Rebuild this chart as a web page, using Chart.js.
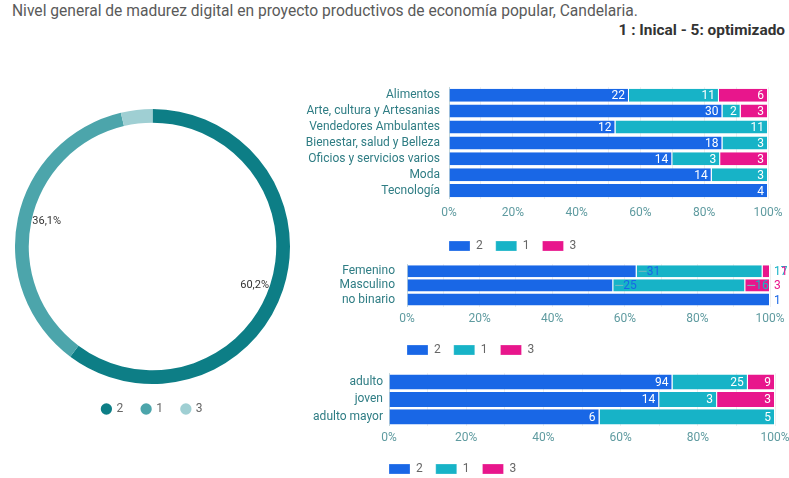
<!DOCTYPE html>
<html>
<head>
<meta charset="utf-8">
<script src="https://cdn.jsdelivr.net/npm/chart.js@4.4.1/dist/chart.umd.min.js"></script>
<style>
    body { margin: 0; width: 789px; height: 478px; overflow: hidden; background: #fff; font-family: Roboto, sans-serif; }
    .caja { position: absolute; }
    #titulo { position: absolute; left: 12px; top: 2px; font-size: 15.6px; color: #5a5a5a; }
    #escala { position: absolute; right: 4px; top: 21px; font-size: 15.4px; font-weight: bold; color: #333; }
</style>
</head>
<body>
<div id="titulo">Nivel general de madurez digital en proyecto productivos de economía popular, Candelaria.</div>
<div id="escala">1 : Inical - 5: optimizado</div>
<div class="caja" style="left:15px; top:109px; width:275px; height:316px;"><canvas id="graficoDona"></canvas></div>
<div class="caja" style="left:300px; top:71px; width:489px; height:191px;"><canvas id="graficoSector"></canvas></div>
<div class="caja" style="left:300px; top:245px; width:489px; height:121px;"><canvas id="graficoGenero"></canvas></div>
<div class="caja" style="left:300px; top:360px; width:489px; height:125px;"><canvas id="graficoEdad"></canvas></div>
<script>
// niveles de madurez (orden de las series)
const niveles = ['2', '1', '3'];

// dona general (%)
const donaValores = [60.2, 36.1, 3.7];

// por sector
const sectores = ['Alimentos', 'Arte, cultura y Artesanias', 'Vendedores Ambulantes', 'Bienestar, salud y Belleza', 'Oficios y servicios varios', 'Moda', 'Tecnología'];
const sectorN2 = [22, 30, 12, 18, 14, 14, 4];
const sectorN1 = [11, 2, 11, 3, 3, 3, 0];
const sectorN3 = [6, 3, 0, 0, 3, 0, 0];

// por genero
const generos = ['Femenino', 'Masculino', 'no binario'];
const generoN2 = [31, 25, 1];
const generoN1 = [17, 16, 0];
const generoN3 = [1, 3, 0];

// por edad
const edades = ['adulto', 'joven', 'adulto mayor'];
const edadN2 = [94, 14, 6];
const edadN1 = [25, 3, 5];
const edadN3 = [9, 3, 0];

const ticksX = [0, 20, 40, 60, 80, 100];

const coloresBarras = ['#1967e6', '#17b3c7', '#e8168c'];
const coloresDona = ['#0d7e86', '#4ca5ab', '#9fcfd3'];

Chart.defaults.font.family = 'Roboto, sans-serif';
Chart.defaults.font.size = 12;
Chart.defaults.animation = false;

// etiquetas del valor de cada segmento
const etiquetasBarras = {
    id: 'etiquetasBarras',
    afterDatasetsDraw(chart, args, opts) {
        const { ctx, chartArea } = chart;
        ctx.save();
        ctx.font = '12px Roboto, sans-serif';
        ctx.textBaseline = 'middle';
        const fuera = {};
        chart.data.datasets.forEach((ds, i) => {
            chart.getDatasetMeta(i).data.forEach((bar, j) => {
                const v = ds.valores[j];
                if (!v) return;
                if (opts.modo === 'interno') {
                    ctx.fillStyle = '#fff';
                    ctx.textAlign = 'right';
                    ctx.fillText(v, bar.x - 4, bar.y + 1);
                } else {
                    ctx.fillStyle = ds.backgroundColor;
                    ctx.textAlign = 'left';
                    if (bar.x >= chartArea.right - 10) {
                        const n = fuera[j] || 0;
                        fuera[j] = n + 1;
                        ctx.fillText(v, chartArea.right + 4 + n * 7, bar.y + 1);
                    } else {
                        ctx.strokeStyle = '#7fb9c0';
                        ctx.lineWidth = 1;
                        ctx.beginPath();
                        ctx.moveTo(bar.x + 2, bar.y);
                        ctx.lineTo(bar.x + 10, bar.y);
                        ctx.stroke();
                        ctx.fillText(v, bar.x + 10, bar.y + 1);
                    }
                }
            });
        });
        ctx.restore();
    }
};

// leyenda alineada con el area del grafico
const leyendaIzquierda = {
    id: 'leyendaIzquierda',
    afterLayout(chart) {
        const lg = chart.legend;
        if (lg) lg.left = chart.chartArea.left - lg.options.labels.padding;
    }
};

function barrasApiladas(id, categorias, series, anchoEje, margenEtiqueta, margenDerecho, grosor, sepTicks, modo) {
    const datasets = series.map((valores, i) => ({
        label: niveles[i],
        valores: valores,
        data: valores.map((v, j) => {
            const total = series.reduce((s, serie) => s + serie[j], 0);
            return v / total * 100;
        }),
        backgroundColor: coloresBarras[i],
        borderColor: '#ffffff',
        borderWidth: { left: 0, right: 1, top: 0, bottom: 0 },
        borderSkipped: false,
        barPercentage: 1,
        categoryPercentage: grosor
    }));
    return new Chart(document.getElementById(id), {
        type: 'bar',
        data: { labels: categorias, datasets: datasets },
        options: {
            indexAxis: 'y',
            responsive: true,
            maintainAspectRatio: false,
            layout: { padding: { top: 5, right: margenDerecho, left: 0, bottom: 0 } },
            scales: {
                x: {
                    stacked: true,
                    min: 0,
                    max: 100,
                    afterFit: scale => { scale.paddingRight = 0; scale.paddingLeft = 0; },
                    ticks: {
                        stepSize: 10,
                        autoSkip: false,
                        maxRotation: 0,
                        padding: sepTicks,
                        color: '#5f9ba0',
                        callback: v => ticksX.includes(v) ? v + '%' : ''
                    },
                    grid: { color: '#eeeeee', drawTicks: false },
                    border: { display: false }
                },
                y: {
                    stacked: true,
                    afterFit: scale => { scale.width = anchoEje; },
                    ticks: { color: '#2f7d84', padding: margenEtiqueta, autoSkip: false },
                    grid: { display: false, drawTicks: false },
                    border: { color: '#c6d8da' }
                }
            },
            plugins: {
                legend: {
                    position: 'bottom',
                    align: 'start',
                    labels: { boxWidth: 21, boxHeight: 10, padding: 13, color: '#666' }
                },
                tooltip: { enabled: false },
                etiquetasBarras: { modo: modo }
            }
        },
        plugins: [etiquetasBarras, leyendaIzquierda]
    });
}

barrasApiladas('graficoSector', sectores, [sectorN2, sectorN1, sectorN3], 149, 9, 21, 0.82, 7, 'interno');
barrasApiladas('graficoGenero', generos, [generoN2, generoN1, generoN3], 107, 12, 19, 0.86, 5, 'externo');
barrasApiladas('graficoEdad', edades, [edadN2, edadN1, edadN3], 89, 6, 14, 0.86, 5, 'interno');

// porcentajes sobre el borde interior del anillo
const etiquetasDona = {
    id: 'etiquetasDona',
    afterDatasetsDraw(chart) {
        const ctx = chart.ctx;
        ctx.save();
        ctx.font = '11px Roboto, sans-serif';
        ctx.fillStyle = '#333';
        ctx.textBaseline = 'middle';
        chart.getDatasetMeta(0).data.forEach((arc, i) => {
            const v = donaValores[i];
            if (v < 5) return;
            const medio = (arc.startAngle + arc.endAngle) / 2;
            const r = arc.innerRadius - 1;
            ctx.textAlign = Math.cos(medio) > 0 ? 'right' : 'left';
            ctx.fillText(v.toFixed(1).replace('.', ',') + '%', arc.x + Math.cos(medio) * r, arc.y + Math.sin(medio) * r);
        });
        ctx.restore();
    }
};

new Chart(document.getElementById('graficoDona'), {
    type: 'doughnut',
    data: {
        labels: niveles,
        datasets: [{ data: donaValores, backgroundColor: coloresDona, borderWidth: 0 }]
    },
    options: {
        responsive: true,
        maintainAspectRatio: false,
        cutout: '90%',
        plugins: {
            legend: {
                position: 'bottom',
                labels: { usePointStyle: true, pointStyle: 'circle', boxWidth: 8, boxHeight: 8, padding: 19, color: '#666' }
            },
            tooltip: { enabled: false }
        }
    },
    plugins: [etiquetasDona]
});
</script>
</body>
</html>
